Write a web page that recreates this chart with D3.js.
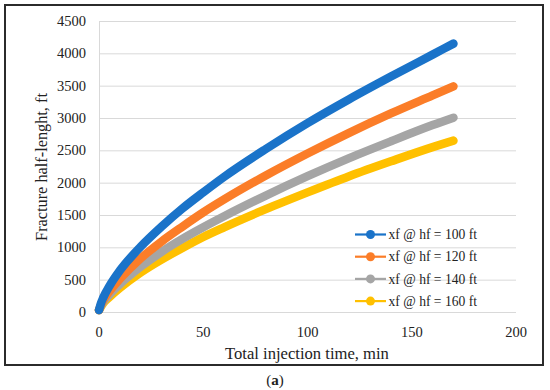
<!DOCTYPE html>
<html>
<head>
<meta charset="utf-8">
<script src="https://cdn.jsdelivr.net/npm/d3@7"></script>
<style>
  body { margin: 0; background: #fff; }
  svg { display: block; font-family: "Liberation Serif", "DejaVu Serif", serif; }
</style>
</head>
<body>
<div id="chart"></div>
<script>
// time values (min) shared by every series
const times = [0, 1, 2, 5, 10, 20, 30, 40, 50, 60, 80, 100, 120, 140, 160, 170];

// fracture half-length (ft)
const xf100 = [30, 140, 220, 400, 640, 1010, 1320, 1600, 1850, 2090, 2520, 2920, 3290, 3640, 3980, 4150];
const xf120 = [30, 115, 180, 320, 510, 830, 1090, 1320, 1540, 1740, 2110, 2450, 2770, 3070, 3350, 3490];
const xf140 = [30, 100, 155, 270, 430, 700, 930, 1130, 1310, 1480, 1800, 2100, 2380, 2640, 2890, 3005];
const xf160 = [30, 85, 135, 230, 370, 610, 810, 990, 1160, 1310, 1590, 1850, 2100, 2330, 2550, 2650];

const seriesNames = ["xf @ hf = 100 ft", "xf @ hf = 120 ft", "xf @ hf = 140 ft", "xf @ hf = 160 ft"];
const seriesColors = ["#1a73c9", "#fb7d28", "#a5a5a5", "#ffc000"];

const xTicks = [0, 50, 100, 150, 200];
const yTicks = [0, 500, 1000, 1500, 2000, 2500, 3000, 3500, 4000, 4500];

const series = [xf100, xf120, xf140, xf160].map((vals, i) => ({
    name: seriesNames[i],
    color: seriesColors[i],
    points: times.map((t, j) => ({ t: t, v: vals[j] }))
}));

const width = 550, height = 390;
const svg = d3.select("#chart").append("svg")
    .attr("width", width)
    .attr("height", height);

// frame
svg.append("rect")
    .attr("x", 5).attr("y", 5)
    .attr("width", 538).attr("height", 360)
    .attr("fill", "none")
    .attr("stroke", "#2b2b2b")
    .attr("stroke-width", 2);

const x = d3.scaleLinear().domain([0, 200]).range([99, 516]);
const y = d3.scaleLinear().domain([0, 4500]).range([312, 21]);

// gridlines
svg.append("g")
    .selectAll("line")
    .data(yTicks)
    .join("line")
    .attr("x1", x(0)).attr("x2", x(200))
    .attr("y1", d => y(d) + 0.5).attr("y2", d => y(d) + 0.5)
    .attr("stroke", "#d9d9d9")
    .attr("stroke-width", 1);

// vertical axis line
svg.append("line")
    .attr("x1", x(0) + 0.5).attr("x2", x(0) + 0.5)
    .attr("y1", y(4500)).attr("y2", y(0))
    .attr("stroke", "#d9d9d9");

// y tick labels
svg.append("g")
    .attr("font-size", 14.5)
    .attr("fill", "#222")
    .attr("text-anchor", "end")
    .selectAll("text")
    .data(yTicks)
    .join("text")
    .attr("x", 86)
    .attr("y", d => y(d))
    .attr("dy", "0.35em")
    .text(d => d);

// x tick labels
svg.append("g")
    .attr("font-size", 14.5)
    .attr("fill", "#222")
    .attr("text-anchor", "middle")
    .selectAll("text")
    .data(xTicks)
    .join("text")
    .attr("x", d => x(d))
    .attr("y", 332)
    .attr("dy", "0.35em")
    .text(d => d);

// axis titles
svg.append("text")
    .attr("x", 307).attr("y", 359)
    .attr("text-anchor", "middle")
    .attr("font-size", 16.6)
    .attr("fill", "#222")
    .text("Total injection time, min");

svg.append("text")
    .attr("transform", "translate(47,167) rotate(-90)")
    .attr("text-anchor", "middle")
    .attr("font-size", 16.3)
    .attr("fill", "#222")
    .text("Fracture half-lenght, ft");

// curves
const line = d3.line()
    .x(d => x(d.t))
    .y(d => y(d.v))
    .curve(d3.curveMonotoneX);

svg.append("g")
    .selectAll("path")
    .data(series.slice().reverse())
    .join("path")
    .attr("d", d => line(d.points))
    .attr("fill", "none")
    .attr("stroke", d => d.color)
    .attr("stroke-width", 8.5)
    .attr("stroke-linecap", "round")
    .attr("stroke-linejoin", "round");

// legend
const legend = svg.append("g")
    .selectAll("g")
    .data(series)
    .join("g")
    .attr("transform", (d, i) => `translate(355,${234.5 + i * 22.2})`);

legend.append("line")
    .attr("x1", 0).attr("x2", 31)
    .attr("stroke", d => d.color)
    .attr("stroke-width", 2.2);

legend.append("circle")
    .attr("cx", 15.5)
    .attr("r", 4.5)
    .attr("fill", d => d.color);

legend.append("text")
    .attr("x", 33.5)
    .attr("dy", "0.35em")
    .attr("font-size", 13.6)
    .attr("fill", "#222")
    .text(d => d.name);

// panel label
const lab = svg.append("text")
    .attr("x", 275).attr("y", 385)
    .attr("text-anchor", "middle")
    .attr("font-size", 15)
    .attr("fill", "#222");
lab.append("tspan").text("(");
lab.append("tspan").attr("font-weight", "bold").text("a");
lab.append("tspan").text(")");
</script>
</body>
</html>
